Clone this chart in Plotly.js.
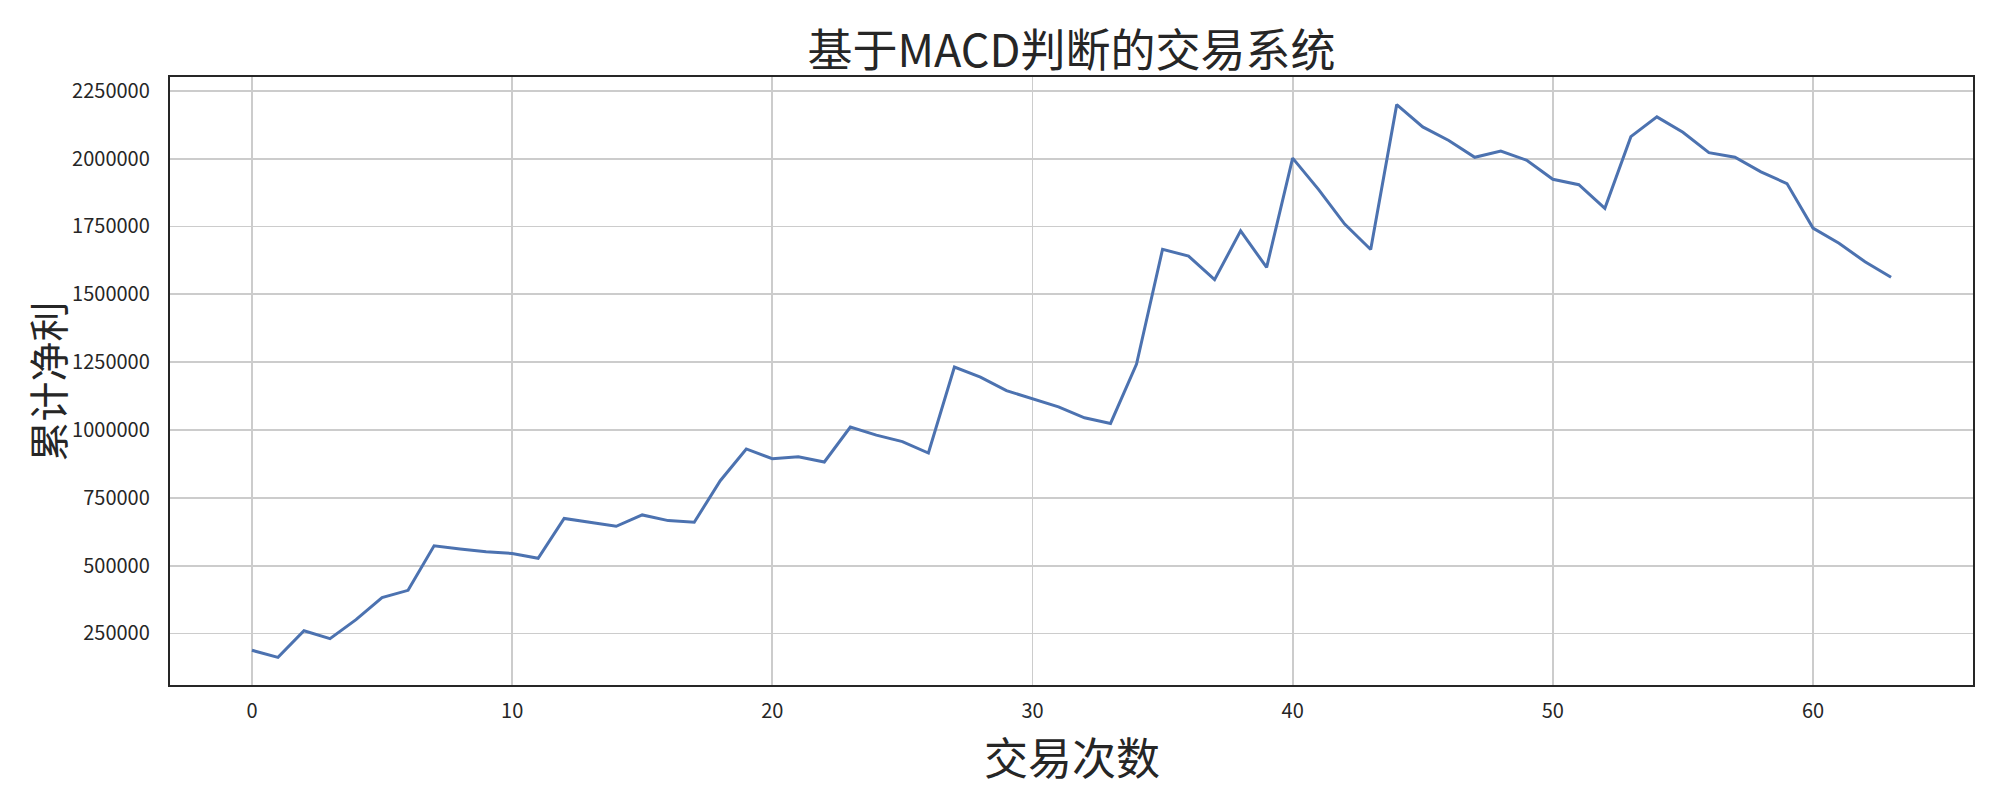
<!DOCTYPE html>
<html>
<head>
<meta charset="utf-8">
<script src="https://cdn.plot.ly/plotly-3.0.1.min.js"></script>
<style>
  html, body { margin: 0; padding: 0; background: #ffffff; }
  #macd_chart { width: 2000px; height: 800px; }
</style>
</head>
<body>
<div id="macd_chart"></div>
<script>
// trade number and cumulative net profit
var trade_no = [];
for (var i = 0; i < 64; i++) trade_no.push(i);

var net_profit = [
    188000, 162000, 260000, 231000, 301000, 382000, 409000, 573000,
    561000, 551000, 545000, 527000, 674000, 659000, 645000, 687000,
    666000, 660000, 813000, 930000, 894000, 901000, 882000, 1011000,
    981000, 957000, 915000, 1232000, 1195000, 1145000, 1115000, 1085000,
    1045000, 1024000, 1243000, 1666000, 1641000, 1554000, 1734000, 1599000,
    2002000, 1886000, 1759000, 1665000, 2199000, 2117000, 2067000, 2005000,
    2028000, 1994000, 1924000, 1904000, 1817000, 2081000, 2154000, 2097000,
    2022000, 2005000, 1951000, 1908000, 1744000, 1688000, 1620000, 1563000
];

var y_ticks = [250000, 500000, 750000, 1000000, 1250000, 1500000, 1750000, 2000000, 2250000];
var x_ticks = [0, 10, 20, 30, 40, 50, 60];

var chart_title = '基于MACD判断的交易系统';
var x_label = '交易次数';
var y_label = '累计净利';

MACD_CHART = document.getElementById('macd_chart');

var FONT = '"Noto Sans CJK SC", "Noto Sans", sans-serif';
var INK = '#262626';

var trace1 = {  x: trade_no,
                y: net_profit,
                mode: 'lines',
                name: y_label,
                line: {color: '#4c72b0', width: 3}
             };

// matplotlib style 5% margins around the data
var ymin = Math.min.apply(null, net_profit), ymax = Math.max.apply(null, net_profit);
var ypad = (ymax - ymin) * 0.05;
var xpad = (trade_no[trade_no.length - 1] - trade_no[0]) * 0.05;

// axis labels placed as annotations so they sit where the reference has them
var labels = [
    {text: x_label, xref: 'paper', yref: 'paper', x: 0.5, y: -0.116,
     xanchor: 'center', yanchor: 'middle', showarrow: false, borderpad: 0,
     font: {size: 44, color: INK}},
    {text: y_label, xref: 'paper', yref: 'paper', x: -0.068, y: 0.5,
     xanchor: 'center', yanchor: 'middle', showarrow: false, textangle: -90, borderpad: 0,
     font: {size: 40, color: INK}}
];

var layout = {width: 2000, height: 800,
              showlegend: false,
              paper_bgcolor: '#ffffff', plot_bgcolor: '#ffffff',
              margin: { l: 170, r: 27, b: 115, t: 77, pad: 0 },
              font: {family: FONT, color: INK},
              title: {text: chart_title, font: {size: 45, color: INK, family: FONT},
                      x: 0.5, xanchor: 'center', xref: 'paper',
                      y: 1 - 51 / 800, yanchor: 'middle', yref: 'container'},
              annotations: labels,
              xaxis: {range: [trade_no[0] - xpad, trade_no[trade_no.length - 1] + xpad],
                      tickvals: x_ticks, ticks: 'outside', ticklen: 7, tickcolor: 'rgba(0,0,0,0)',
                      tickfont: {size: 20, color: INK},
                      showgrid: true, gridcolor: '#cccccc', gridwidth: 1.8,
                      zeroline: false, showline: true, linecolor: INK, linewidth: 2.2, mirror: true},
              yaxis: {range: [ymin - ypad, ymax + ypad],
                      tickvals: y_ticks, tickformat: 'd', ticks: 'outside', ticklen: 14,
                      tickcolor: 'rgba(0,0,0,0)',
                      tickfont: {size: 20, color: INK},
                      showgrid: true, gridcolor: '#cccccc', gridwidth: 1.8,
                      zeroline: false, showline: true, linecolor: INK, linewidth: 2.2, mirror: true}
             };

var config = {'displayModeBar': false, 'responsive': false, 'staticPlot': true};

Plotly.newPlot(MACD_CHART, [trace1], layout, config);
</script>
</body>
</html>
